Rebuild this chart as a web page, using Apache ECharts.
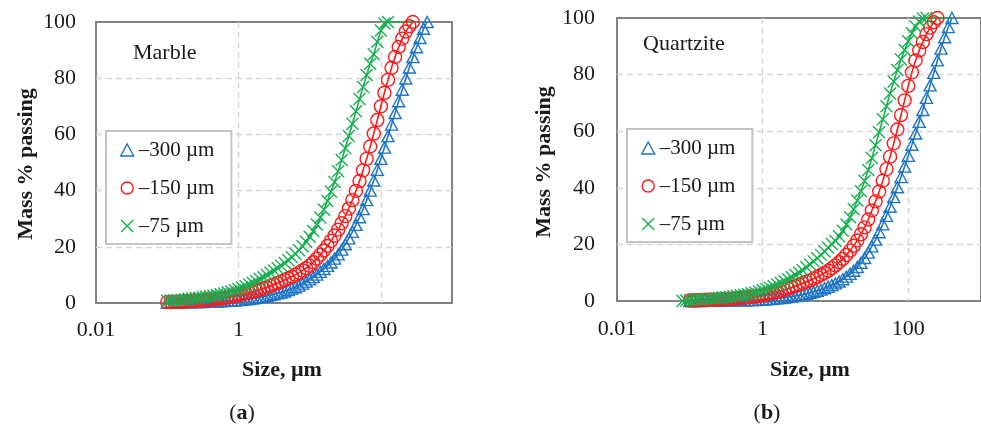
<!DOCTYPE html>
<html>
<head>
<meta charset="utf-8">
<script src="https://cdn.jsdelivr.net/npm/echarts@6/dist/echarts.min.js"></script>
<style>
  html, body { margin: 0; padding: 0; background: #fff; }
  #chart { width: 981px; height: 430px; }
</style>
</head>
<body>
<div id="chart"></div>
<script>
// Particle size classes (µm) shared by all cumulative curves
const sizes = [
  0.0796, 0.0893, 0.1002, 0.1125, 0.1262, 0.1416, 0.1589, 0.1783, 0.2000, 0.2244,
  0.2518, 0.2825, 0.3170, 0.3557, 0.3991, 0.4477, 0.5024, 0.5637, 0.6325, 0.7096,
  0.7962, 0.8934, 1.002, 1.125, 1.262, 1.416, 1.589, 1.783, 2.000, 2.244,
  2.518, 2.825, 3.170, 3.557, 3.991, 4.477, 5.024, 5.637, 6.325, 7.096,
  7.962, 8.934, 10.02, 11.25, 12.62, 14.16, 15.89, 17.83, 20.00, 22.44,
  25.18, 28.25, 31.70, 35.57, 39.91, 44.77, 50.24, 56.37, 63.25, 70.96,
  79.62, 89.34, 100.2, 112.5, 126.2, 141.6, 158.9, 178.3, 200.0, 224.4,
  251.8, 282.5, 317.0, 355.7, 399.1, 447.7
];

// Cumulative mass % passing, Marble
const marble300 = [
  null, null, 0.1, 0.1, 0.1, 0.1, 0.2, 0.2, 0.2, 0.2,
  0.3, 0.3, 0.3, 0.4, 0.4, 0.5, 0.5, 0.6, 0.7, 0.8,
  0.8, 0.9, 1.0, 1.1, 1.3, 1.4, 1.6, 1.8, 2.0, 2.2,
  2.5, 2.8, 3.1, 3.4, 3.7, 4.1, 4.6, 5.1, 5.6, 6.2,
  6.9, 7.6, 8.4, 9.2, 10.1, 11.1, 12.1, 13.2, 14.4, 15.8,
  17.3, 19.0, 20.9, 23.0, 25.3, 27.8, 30.5, 33.4, 36.6, 40.0,
  43.6, 47.4, 51.3, 55.3, 59.4, 63.5, 67.6, 71.8, 75.9, 79.9,
  83.8, 87.5, 91.0, 94.3, 97.6, 100
];
const marble150 = [
  null, null, 0.3, 0.35, 0.4, 0.45, 0.5, 0.55, 0.6, 0.7,
  0.75, 0.85, 0.95, 1.05, 1.15, 1.3, 1.45, 1.6, 1.8, 2.0,
  2.2, 2.5, 2.8, 3.1, 3.4, 3.7, 4.0, 4.4, 4.8, 5.2,
  5.6, 6.1, 6.6, 7.1, 7.6, 8.2, 8.8, 9.4, 10.1, 10.8,
  11.6, 12.4, 13.3, 14.5, 15.8, 17.2, 18.7, 20.3, 22.1, 24.0,
  26.1, 28.4, 30.9, 33.6, 36.6, 39.9, 43.4, 47.2, 51.3, 55.7,
  60.3, 65.1, 70.0, 74.8, 79.4, 83.7, 87.6, 91.1, 94.1, 96.6,
  98.5, 100, null, null, null, null
];
const marble75 = [
  null, null, 0.8, 0.9, 1.0, 1.1, 1.2, 1.35, 1.5, 1.6,
  1.75, 1.9, 2.05, 2.2, 2.4, 2.6, 2.85, 3.1, 3.4, 3.7,
  4.1, 4.5, 5.0, 5.5, 6.0, 6.6, 7.2, 7.8, 8.5, 9.2,
  10.0, 10.8, 11.6, 12.4, 13.3, 14.2, 15.2, 16.3, 17.5, 18.8,
  20.2, 21.8, 23.6, 25.6, 27.9, 30.4, 33.2, 36.3, 39.6, 43.1,
  46.9, 50.9, 55.1, 59.4, 63.8, 68.2, 72.6, 76.9, 81.1, 85.1,
  88.5, 93.0, 97.0, 99.5, 100, null, null, null, null, null,
  null, null, null, null, null, null
];
const marble75End = 282.5;

// Cumulative mass % passing, Quartzite
const quartzite300 = [
  null, null, 0.0, 0.0, 0.0, 0.0, 0.05, 0.05, 0.05, 0.1,
  0.1, 0.1, 0.1, 0.15, 0.15, 0.2, 0.2, 0.25, 0.3, 0.3,
  0.35, 0.4, 0.45, 0.55, 0.65, 0.75, 0.9, 1.05, 1.2, 1.35,
  1.55, 1.75, 2.0, 2.25, 2.5, 2.8, 3.2, 3.6, 4.0, 4.5,
  5.0, 5.6, 6.2, 6.9, 7.7, 8.6, 9.6, 10.7, 12.0, 13.5,
  15.2, 17.1, 19.3, 21.7, 24.3, 27.1, 30.1, 33.3, 36.7, 40.2,
  43.8, 47.5, 51.3, 55.2, 59.2, 63.3, 67.5, 71.8, 76.2, 80.6,
  85.0, 89.2, 93.2, 96.8, 100, null
];
const quartzite150 = [
  null, null, 0.2, 0.2, 0.25, 0.3, 0.35, 0.4, 0.45, 0.5,
  0.55, 0.6, 0.7, 0.75, 0.85, 0.95, 1.05, 1.15, 1.3, 1.45,
  1.6, 1.8, 2.0, 2.3, 2.6, 2.9, 3.2, 3.6, 4.0, 4.4,
  4.8, 5.3, 5.8, 6.3, 6.8, 7.3, 7.9, 8.5, 9.2, 9.9,
  10.7, 11.6, 12.6, 13.7, 14.9, 16.3, 17.8, 19.5, 21.4, 23.6,
  26.0, 28.8, 32.0, 35.2, 38.7, 42.5, 46.6, 51.0, 55.7, 60.6,
  65.7, 70.9, 76.0, 80.8, 85.0, 88.5, 91.5, 94.3, 96.6, 98.5,
  100, null, null, null, null, null
];
const quartzite75 = [
  0.0, 0.2, 0.3, 0.4, 0.5, 0.6, 0.7, 0.8, 0.9, 1.0,
  1.1, 1.2, 1.35, 1.5, 1.65, 1.8, 2.0, 2.2, 2.4, 2.7,
  3.0, 3.4, 3.8, 4.2, 4.7, 5.2, 5.8, 6.4, 7.0, 7.7,
  8.4, 9.2, 10.0, 10.9, 11.9, 12.9, 14.0, 15.1, 16.3, 17.5,
  18.8, 20.1, 21.2, 22.9, 24.8, 27.0, 29.6, 32.4, 35.5, 38.8,
  42.4, 46.3, 50.5, 55.0, 59.6, 64.2, 68.8, 73.3, 77.6, 81.6,
  85.3, 88.7, 91.8, 94.6, 97.0, 98.8, 99.8, 100, null, null,
  null, null, null, null, null, null
];
const quartzite75End = 399.1;

// Axis tick values
const sizeTicks = [0.01, 1, 100];
const massMin = 0, massMax = 100, massStep = 20;

const seriesNames = ['\u2013300 \u00b5m', '\u2013150 \u00b5m', '\u201375 \u00b5m'];

const SERIF = '"Liberation Serif", "Times New Roman", serif';
const TEXT = '#1a1a1a';
const BLUE = '#1f74c4';
const RED = '#ff1a1a';
const GREEN = '#16b050';
const CROSS = 'path://M0,0L10,10M10,0L0,10';
const marks = [
  { symbol: 'triangle', size: [12, 11], color: BLUE },
  { symbol: 'circle', size: 13, color: RED },
  { symbol: CROSS, size: 12, color: GREEN }
];

const chart = echarts.init(document.getElementById('chart'), null, { renderer: 'canvas' });

const grids = [
  { left: 96, top: 22, width: 356, height: 281 },
  { left: 617, top: 18, width: 365, height: 283 }
];

const gridLine = { color: '#d6d6d6', width: 1.4, type: [6, 4] };

function xAxisFor(i, labelMargin) {
  return {
    type: 'log', logBase: 100, min: 0.01, max: 1000, gridIndex: i,
    axisLine: { show: false }, axisTick: { show: false },
    axisLabel: {
      margin: labelMargin, fontFamily: SERIF, fontSize: 22, color: TEXT,
      showMaxLabel: false,
      formatter: v => {
        const n = +Number(v).toPrecision(6);
        return sizeTicks.indexOf(n) >= 0 ? String(n) : '';
      }
    },
    splitLine: { show: true, showMinLine: false, showMaxLine: false, lineStyle: gridLine }
  };
}
function yAxisFor(i, labelMargin) {
  return {
    type: 'value', min: massMin, max: massMax, interval: massStep, gridIndex: i,
    axisLine: { show: false }, axisTick: { show: false },
    axisLabel: { margin: labelMargin, fontFamily: SERIF, fontSize: 22, color: TEXT },
    splitLine: { show: true, showMinLine: false, showMaxLine: false, lineStyle: gridLine }
  };
}

function curve(name, vals, panel, mark, tailEnd) {
  const data = [];
  vals.forEach((v, i) => { if (v != null) data.push([sizes[i], v]); });
  if (tailEnd) data.push({ value: [tailEnd, 100], symbol: 'none' });
  return {
    type: 'line', name, data,
    xAxisIndex: panel, yAxisIndex: panel,
    symbol: mark.symbol, symbolSize: mark.size, showAllSymbol: true,
    clip: false, animation: false,
    itemStyle: { color: 'rgba(0,0,0,0)', borderColor: mark.color, borderWidth: 1.4 },
    lineStyle: { color: mark.color, width: 1.6 },
    emphasis: { disabled: true }
  };
}

function legendFor(left, top) {
  return {
    left, top, orient: 'vertical', selectedMode: false,
    padding: [7, 17, 6, 14], itemGap: 14, itemWidth: 13, itemHeight: 12,
    borderColor: '#c4c4c4', borderWidth: 2, backgroundColor: '#fff',
    textStyle: { fontFamily: SERIF, fontSize: 21, color: TEXT, lineHeight: 24 },
    data: seriesNames.map((n, k) => ({
      name: n,
      icon: marks[k].symbol,
      itemStyle: { color: 'rgba(0,0,0,0)', borderColor: marks[k].color, borderWidth: 1.4 }
    }))
  };
}

function label(text, x, y, opts) {
  return {
    type: 'text', x, y, rotation: opts.rotation || 0, silent: true,
    style: {
      text, fill: TEXT,
      font: (opts.bold ? 'bold ' : '') + (opts.size || 22) + 'px ' + SERIF,
      align: opts.align || 'center', verticalAlign: 'middle'
    }
  };
}
function caption(letter, x, y) {
  return {
    type: 'text', x, y, silent: true,
    style: {
      text: '{p|(}{b|' + letter + '}{p|)}', align: 'center', verticalAlign: 'middle',
      rich: {
        p: { font: '22px ' + SERIF, fill: TEXT },
        b: { font: 'bold 22px ' + SERIF, fill: TEXT }
      }
    }
  };
}

chart.setOption({
  animation: false,
  backgroundColor: '#fff',
  grid: grids.map(g => Object.assign({ show: true, borderColor: '#828282', borderWidth: 2, backgroundColor: 'rgba(0,0,0,0)' }, g)),
  xAxis: [xAxisFor(0, 16), xAxisFor(1, 17)],
  yAxis: [yAxisFor(0, 20), yAxisFor(1, 22)],
  legend: [legendFor(106, 131), legendFor(627, 129)],
  series: [
    curve(seriesNames[0], marble300, 0, marks[0]),
    curve(seriesNames[1], marble150, 0, marks[1]),
    curve(seriesNames[2], marble75, 0, marks[2], marble75End),
    curve(seriesNames[0], quartzite300, 1, marks[0]),
    curve(seriesNames[1], quartzite150, 1, marks[1]),
    curve(seriesNames[2], quartzite75, 1, marks[2], quartzite75End)
  ],
  graphic: [
    label('Marble', 133, 53, { align: 'left' }),
    label('Quartzite', 643, 44, { align: 'left' }),
    label('Mass % passing', 26, 164, { bold: true, rotation: Math.PI / 2 }),
    label('Mass % passing', 544, 162, { bold: true, rotation: Math.PI / 2 }),
    label('Size, \u00b5m', 282, 370, { bold: true }),
    label('Size, \u00b5m', 810, 370, { bold: true }),
    caption('a', 242, 413),
    caption('b', 767, 413)
  ]
});
</script>
</body>
</html>
